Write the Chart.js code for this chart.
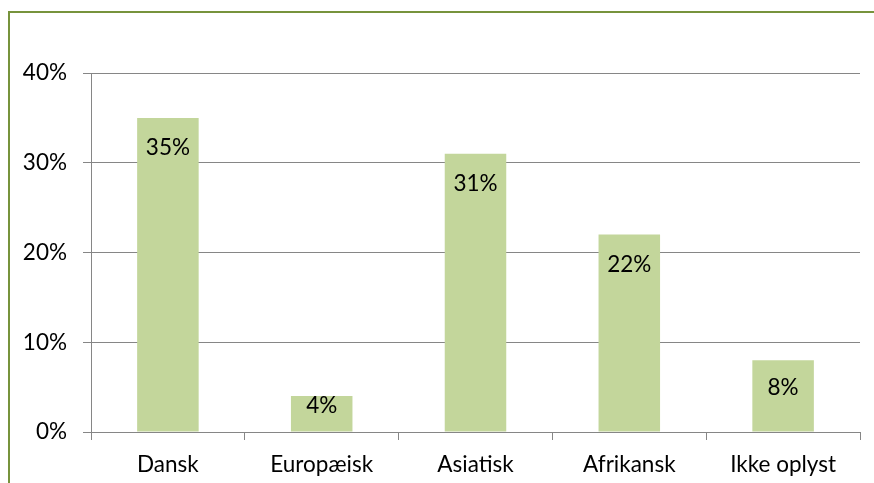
<!DOCTYPE html>
<html><head><meta charset="utf-8">
<script src="https://cdn.jsdelivr.net/npm/chart.js@4"></script>
<style>html,body{margin:0;padding:0;background:#fff;overflow:hidden}#wrap{position:relative;width:874px;height:483px}</style>
</head><body><div id="wrap"><canvas id="c" width="874" height="483"></canvas></div>
<script>
const categories = ["Dansk", "Europæisk", "Asiatisk", "Afrikansk", "Ikke oplyst"];
const values = [35, 4, 31, 22, 8];
const yTicks = [0, 10, 20, 30, 40];

const FONT = "Lato, 'Open Sans', sans-serif";
const FSIZE = 22.5;

const frame = {
  id: 'frame',
  afterDraw(chart) {
    const ctx = chart.ctx;
    ctx.save();
    ctx.strokeStyle = '#77933C';
    ctx.lineWidth = 2;
    ctx.beginPath();
    ctx.moveTo(9, 483);
    ctx.lineTo(9, 12);
    ctx.lineTo(874, 12);
    ctx.stroke();
    ctx.restore();
  }
};

const labels = {
  id: 'labels',
  afterDatasetsDraw(chart) {
    const ctx = chart.ctx;
    const meta = chart.getDatasetMeta(0);
    ctx.save();
    ctx.fillStyle = '#000';
    ctx.font = FSIZE + 'px ' + FONT;
    ctx.textAlign = 'center';
    ctx.textBaseline = 'middle';
    meta.data.forEach((bar, i) => {
      const h = bar.base - bar.y;
      const off = Math.min(30, h / 2 - 8);
      ctx.fillText(values[i] + '%', bar.x, bar.y + off);
    });
    ctx.restore();
  }
};

new Chart(document.getElementById('c'), {
  type: 'bar',
  data: {
    labels: categories,
    datasets: [{
      data: values,
      backgroundColor: '#C3D69B',
      borderWidth: 0,
      categoryPercentage: 1,
      barPercentage: 0.4
    }]
  },
  options: {
    responsive: false,
    animation: false,
    layout: { padding: { left: 0, right: 14, top: 73, bottom: 0 } },
    plugins: { legend: { display: false }, tooltip: { enabled: false } },
    scales: {
      x: {
        afterFit(s) { s.height = 51; },
        grid: { offset: true, drawOnChartArea: false, drawTicks: true, tickLength: 8, color: '#868686', lineWidth: 1 },
        border: { display: true, color: '#868686', width: 1 },
        ticks: { color: '#000', font: { family: FONT, size: FSIZE }, padding: 11, maxRotation: 0 }
      },
      y: {
        min: 0, max: 40,
        afterFit(s) { s.width = 91; },
        afterBuildTicks(s) { s.ticks = yTicks.map(v => ({ value: v })); },
        grid: { color: '#868686', lineWidth: 1, drawTicks: true, tickLength: 8 },
        border: { display: true, color: '#868686', width: 1 },
        ticks: { color: '#000', font: { family: FONT, size: FSIZE }, padding: 16, callback: v => v + '%' }
      }
    }
  },
  plugins: [frame, labels]
});
</script>
</body></html>
